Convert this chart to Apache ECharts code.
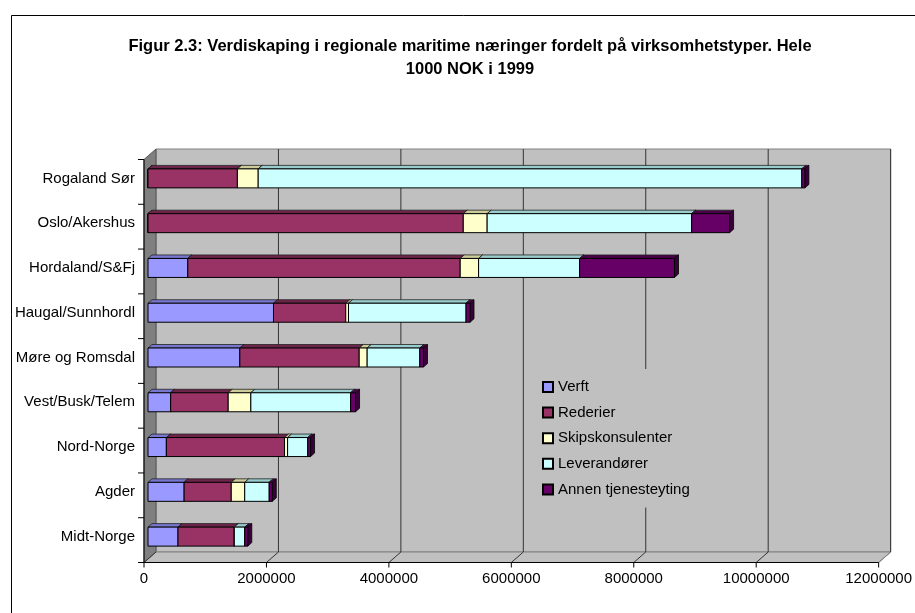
<!DOCTYPE html>
<html>
<head>
<meta charset="utf-8">
<title>Figur 2.3</title>
<script src="https://cdn.jsdelivr.net/npm/echarts@6/dist/echarts.min.js"></script>
<style>
  html, body { margin: 0; padding: 0; background: #fff; }
  #chart { width: 915px; height: 613px; }
</style>
</head>
<body>
<div id="chart"></div>
<script>
// regioner (ovenfra og ned)
var categories = ['Rogaland Sør', 'Oslo/Akershus', 'Hordaland/S&Fj', 'Haugal/Sunnhordl',
  'Møre og Romsdal', 'Vest/Busk/Telem', 'Nord-Norge', 'Agder', 'Midt-Norge'];

// verdiskaping, 1000 NOK
var verft        = [0, 0, 650000, 2050000, 1500000, 370000, 300000, 590000, 490000];
var rederier     = [1460000, 5150000, 4450000, 1180000, 1950000, 940000, 1930000, 770000, 920000];
var skipskons    = [340000, 390000, 300000, 45000, 130000, 370000, 50000, 220000, 0];
var leverandorer = [8880000, 3340000, 1650000, 1920000, 860000, 1630000, 330000, 400000, 170000];
var annen        = [50000, 620000, 1550000, 65000, 60000, 80000, 45000, 50000, 50000];

var xTicks = [0, 2000000, 4000000, 6000000, 8000000, 10000000, 12000000];

var seriesDefs = [
  { name: 'Verft', values: verft, front: '#9999FF', top: '#7777D0', side: '#5555A0' },
  { name: 'Rederier', values: rederier, front: '#993366', top: '#6E2449', side: '#4F1A35' },
  { name: 'Skipskonsulenter', values: skipskons, front: '#FFFFCC', top: '#CCCC99', side: '#A0A078' },
  { name: 'Leverandører', values: leverandorer, front: '#CCFFFF', top: '#99CCCC', side: '#78A0A0' },
  { name: 'Annen tjenesteyting', values: annen, front: '#660066', top: '#4A004A', side: '#3A003A' }
];

var font = 'Liberation Sans, Arial, sans-serif';
var BAR_H = 19, BDX = 4, BDY = 3.5;      // dybde på stolpene
var FDX = -4, FDY = 3.5, KDX = 8, KDY = -7; // fremre plan og bakvegg i forhold til stolpeplanet

// bakvegg, venstre vegg, gulv og akser
function renderFrame(params, api) {
  var cs = params.coordSys;
  var top = cs.y, bot = cs.y + cs.height;
  var x0 = api.coord([0, 0])[0], x1 = api.coord([xTicks[xTicks.length - 1], 0])[0];
  var ch = [];
  // bakvegg
  ch.push({ type: 'rect', shape: { x: x0 + KDX, y: top + KDY, width: x1 - x0, height: cs.height },
    style: { fill: '#C0C0C0', stroke: '#808080', lineWidth: 1 } });
  // venstre vegg
  ch.push({ type: 'polygon', shape: { points: [[x0 + FDX, top + FDY], [x0 + KDX, top + KDY], [x0 + KDX, bot + KDY], [x0 + FDX, bot + FDY]] },
    style: { fill: '#808080', stroke: '#555', lineWidth: 1 } });
  // gulv
  ch.push({ type: 'polygon', shape: { points: [[x0 + FDX, bot + FDY], [x1 + FDX, bot + FDY], [x1 + KDX, bot + KDY], [x0 + KDX, bot + KDY]] },
    style: { fill: '#C0C0C0', stroke: '#808080', lineWidth: 1 } });
  xTicks.forEach(function (v, i) {
    var x = api.coord([v, 0])[0];
    if (i > 0) {
      ch.push({ type: 'line', shape: { x1: x + KDX, y1: top + KDY, x2: x + KDX, y2: bot + KDY },
        style: { stroke: '#333', lineWidth: 1 } });
    }
    ch.push({ type: 'line', shape: { x1: x + FDX, y1: bot + FDY, x2: x + KDX, y2: bot + KDY },
      style: { stroke: i === xTicks.length - 1 ? '#808080' : '#333', lineWidth: 1 } });
    ch.push({ type: 'line', shape: { x1: x + FDX, y1: bot + FDY, x2: x + FDX, y2: bot + FDY + 5 },
      style: { stroke: '#000', lineWidth: 1 } });
  });
  // akselinjer foran
  ch.push({ type: 'line', shape: { x1: x0 + FDX, y1: top + FDY, x2: x0 + FDX, y2: bot + FDY }, style: { stroke: '#000', lineWidth: 1 } });
  ch.push({ type: 'line', shape: { x1: x0 + FDX, y1: bot + FDY, x2: x1 + FDX, y2: bot + FDY }, style: { stroke: '#000', lineWidth: 1 } });
  var band = cs.height / categories.length;
  for (var k = 0; k <= categories.length; k++) {
    var y = top + FDY + k * band;
    ch.push({ type: 'line', shape: { x1: x0 + FDX - 6, y1: y, x2: x0 + FDX, y2: y }, style: { stroke: '#000', lineWidth: 1 } });
  }
  return { type: 'group', children: ch };
}

function makeBarRender(def) {
  return function (params, api) {
    var p0 = api.coord([api.value(0), api.value(2)]);
    var p1 = api.coord([api.value(1), api.value(2)]);
    var x0 = p0[0], x1 = p1[0];
    var yT = p0[1] - BAR_H / 2, yB = p0[1] + BAR_H / 2;
    return {
      type: 'group',
      children: [
        { type: 'polygon', shape: { points: [[x0, yT], [x1, yT], [x1 + BDX, yT - BDY], [x0 + BDX, yT - BDY]] },
          style: { fill: def.top, stroke: '#222', lineWidth: 0.8 } },
        { type: 'polygon', shape: { points: [[x1, yT], [x1 + BDX, yT - BDY], [x1 + BDX, yB - BDY], [x1, yB]] },
          style: { fill: def.side, stroke: '#000', lineWidth: 0.8 } },
        { type: 'rect', shape: { x: x0, y: yT, width: x1 - x0, height: BAR_H },
          style: { fill: def.front, stroke: '#000', lineWidth: 1 } }
      ]
    };
  };
}

// stable segmenter
var cum = categories.map(function () { return 0; });
var barSeries = seriesDefs.map(function (def) {
  var data = def.values.map(function (v, i) {
    var s = cum[i];
    cum[i] += v;
    return [s, cum[i], i];
  });
  return {
    name: def.name,
    type: 'custom',
    renderItem: makeBarRender(def),
    itemStyle: { color: def.front, borderColor: '#000', borderWidth: 1 },
    encode: { x: [0, 1], y: 2 },
    data: data,
    z: 3,
    silent: true
  };
});

var myChart = echarts.init(document.getElementById('chart'));

var option = {
  backgroundColor: '#fff',
  animation: false,
  title: {
    text: 'Figur 2.3: Verdiskaping i regionale maritime næringer fordelt på virksomhetstyper. Hele\n1000 NOK i 1999',
    left: 465,
    top: 30,
    textAlign: 'center',
    textStyle: { fontFamily: font, fontSize: 16.5, fontWeight: 'bold', color: '#000', lineHeight: 23 }
  },
  graphic: [{
    type: 'rect', left: 9, top: 13, shape: { width: 1000, height: 1000 },
    style: { fill: 'none', stroke: '#000', lineWidth: 1 }, z: -1, silent: true
  }],
  legend: {
    orient: 'vertical',
    left: 532,
    top: 369,
    padding: [10, 14, 10, 10],
    backgroundColor: '#C0C0C0',
    itemWidth: 10,
    itemHeight: 10,
    itemGap: 9.6,
    icon: 'rect',
    textStyle: { fontFamily: font, fontSize: 15, color: '#000', lineHeight: 16 },
    data: seriesDefs.map(function (d) { return d.name; })
  },
  grid: { left: 148, top: 156, width: 742, height: 403 },
  xAxis: {
    type: 'value',
    min: 0,
    max: 12000000,
    interval: 2000000,
    axisLine: { show: false },
    axisTick: { show: false },
    splitLine: { show: false },
    axisLabel: {
      fontFamily: font, fontSize: 15, color: '#000', margin: 12,
      padding: [0, 8, 0, 0],
      formatter: function (v) { return String(v); }
    }
  },
  yAxis: {
    type: 'category',
    inverse: true,
    data: categories,
    axisLine: { show: false },
    axisTick: { show: false },
    splitLine: { show: false },
    axisLabel: { fontFamily: font, fontSize: 15, color: '#000', margin: 13, padding: [7, 0, 0, 0] }
  },
  series: [{
    type: 'custom',
    name: 'ramme',
    renderItem: renderFrame,
    encode: { x: 0, y: 1 },
    data: [[0, 0]],
    z: 1,
    silent: true,
    clip: false
  }].concat(barSeries)
};

myChart.setOption(option);
</script>
</body>
</html>
